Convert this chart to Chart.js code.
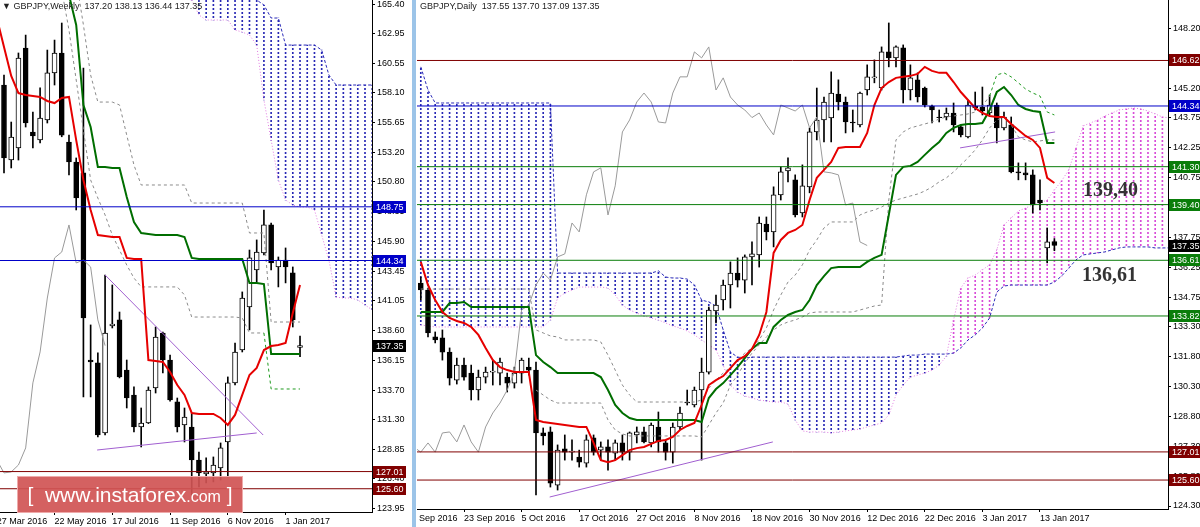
<!DOCTYPE html>
<html>
<head>
<meta charset="utf-8">
<script src="https://cdn.jsdelivr.net/npm/chart.js@4.4.1/dist/chart.umd.min.js"></script>
<style>
  body { margin: 0; background: #fff; width: 1200px; height: 527px; overflow: hidden; position: relative; font-family: "Liberation Sans", Arial, sans-serif; }
  canvas { position: absolute; top: 0; }
  #wk { left: 0; }
  #dy { left: 417px; }
  #sep { position: absolute; left: 412px; top: 0; width: 4px; height: 527px; background: #9cc4e8; }
  .ttl { position: absolute; top: 1px; font-size: 9px; color: #222; white-space: pre; }
  .big { position: absolute; font: bold 20px "Liberation Serif", "Times New Roman", serif; color: #333; }
  #wm { position: absolute; left: 17px; top: 476px; width: 224px; height: 35px; background: rgba(208, 84, 84, 0.92); border: 1px solid #eaa; color: #fff; font-size: 21px; line-height: 35px; white-space: pre; text-align: center; }
  #wm small { font-size: 16px; }
</style>
</head>
<body>
<canvas id="wk" width="411" height="527"></canvas>
<canvas id="dy" width="783" height="527"></canvas>
<div id="sep"></div>
<div class="ttl" style="left:2px">▼ GBPJPY,Weekly  137.20 138.13 136.44 137.35</div>
<div class="ttl" style="left:420px">GBPJPY,Daily  137.55 137.70 137.09 137.35</div>
<div class="big" style="left:1083px;top:178px">139,40</div>
<div class="big" style="left:1082px;top:263px">136,61</div>
<div id="wm">[  www.instaforex<small>.com</small> ]</div>
<script>
// ---------- weekly panel (left), bar index 0 = week of 4 Apr 2016 ----------
const wOpen  = [158.75,152.59,153.58,161.79,154.89,154.24,155.88,159.74,161.38,154.07,152.43,151.53,136.17,135.93,130.18,138.97,139.46,135.35,133.30,130.67,131.00,133.88,138.39,136.17,132.73,130.84,130.67,127.96,126.81,126.90,127.31,129.44,134.29,136.99,140.53,143.56,144.96,147.26,143.81,144.38,143.32,137.20];
const wHigh  = [159.57,155.71,161.38,162.85,156.53,158.51,161.62,162.44,163.84,154.64,152.76,160.15,139.05,136.75,143.15,142.33,140.11,136.17,133.96,132.23,133.96,138.88,138.47,136.58,133.05,132.23,131.82,128.62,128.13,128.21,129.36,134.78,137.57,141.76,145.20,146.03,148.49,147.42,144.63,145.37,143.81,138.13];
const wLow   = [151.53,151.94,152.59,155.30,153.58,153.99,155.63,158.75,154.50,151.36,148.49,133.14,133.14,129.85,130.02,138.80,134.70,132.23,130.26,129.03,130.95,133.46,135.11,132.80,130.26,129.44,125.09,125.75,126.08,126.16,126.32,126.57,134.12,136.83,138.64,142.58,144.79,143.56,142.17,142.50,138.88,136.44];
const wClose = [152.76,154.48,160.97,155.63,154.56,156.04,159.74,161.38,154.64,152.43,149.47,139.62,136.01,130.02,138.39,139.13,134.78,133.05,130.67,131.00,133.71,138.06,136.17,132.89,130.67,131.49,127.96,126.90,126.98,127.55,128.95,134.29,136.83,141.26,144.55,145.04,147.26,144.14,144.38,143.81,139.46,137.35];
// tenkan from index -1, kijun from 9
const wTenkan = [164.25,161.87,159.49,158.09,157.93,157.85,157.77,157.44,157.27,157.68,157.77,154.23,150.95,148.49,146.43,146.35,146.27,146.27,144.55,144.47,144.47,136.17,136.09,136.01,135.19,134.12,133.30,131.82,131.74,131.74,131.74,131.41,130.84,131.66,133.30,134.94,135.52,136.99,137.32,137.40,137.57,140.03,142.33];
const wKijun = [166.14,163.68,157.11,155.30,152.02,152.02,151.94,151.94,149.55,147.50,146.60,146.52,146.43,146.43,146.43,146.43,146.27,144.55,144.47,144.47,144.47,144.47,144.47,144.47,144.47,142.49,142.49,142.41,136.66,136.66,136.66,136.66,136.66];
// cloud spans from index 26
const wSpanA = [165.73,164.50,164.09,164.09,164.09,164.09,163.27,163.10,162.85,162.03,157.52,154.23,150.95,149.31,148.90,148.73,148.73,148.49,146.43,144.38,141.34,141.26,141.26,141.10,140.69,140.28];
const wSpanB = [166.55,166.55,166.55,166.55,166.55,166.55,166.14,166.14,166.14,165.73,165.32,164.25,164.25,162.03,162.03,162.03,162.03,162.03,161.62,159.57,158.75,158.75,158.75,158.75,158.75,158.75];
// dashed lines: first from index 10, second from index 8
const wDashA = [167.37,163.68,159.57,157.35,157.35,157.35,157.11,154.64,152.18,150.54,150.54,150.54,150.54,150.54,150.54,150.54,149.06,149.06,149.06,149.06,149.06,149.06,149.06,149.06,146.60,146.60,146.60,139.29,139.29,139.29,139.29,139.29];
const wDashB = [166.55,163.26,159.16,155.06,150.95,149.47,148.08,146.43,145.20,143.97,142.90,142.17,142.17,142.17,142.17,142.17,142.17,141.51,139.70,139.70,139.70,139.70,139.70,139.70,139.70,139.62,138.39,138.39,138.39,133.79,133.79,133.79,133.79,133.79];
const wTrends = [[[12.9, 128.78], [35.0, 130.18]], [[14.0, 143.15], [35.9, 130.01]]];
const wLevels = [[148.75, '#0000c8'], [144.34, '#0000c8'], [127.01, '#800000'], [125.60, '#800000']];
const wTicks = [165.40,162.95,160.55,158.10,155.65,153.20,150.80,148.35,145.90,143.45,141.05,138.60,136.15,133.70,131.30,128.85,126.40,123.95];
const wDateIdx = [-1, 7, 15, 23, 31, 39];
const wDateLbl = ['27 Mar 2016', '22 May 2016', '17 Jul 2016', '11 Sep 2016', '6 Nov 2016', '1 Jan 2017'];

// ---------- daily panel (right), bar index 0 = 13 Sep 2016, data from index 2 ----------
const dOpen  = [135.47,135.12,132.77,132.72,132.01,130.61,131.36,130.96,130.11,130.76,131.01,130.96,130.76,130.46,130.96,131.26,131.11,127.96,128.01,125.35,127.16,127.00,126.75,126.45,127.71,127.10,127.26,126.95,127.46,127.00,127.86,128.01,127.46,128.26,127.46,127.00,128.26,129.51,129.36,130.11,131.01,134.07,134.62,135.37,135.97,135.62,136.78,136.88,138.43,138.03,139.89,141.09,140.64,138.98,140.29,143.04,143.64,143.74,144.94,144.54,143.54,143.39,145.14,145.75,145.24,147.05,146.75,147.25,145.14,145.65,145.24,144.34,143.79,143.79,143.99,143.29,142.79,144.34,144.29,143.99,144.39,143.24,143.39,141.04,140.99,140.89,139.63,137.23,137.55];
const dHigh  = [135.77,135.22,133.02,133.12,132.22,131.71,131.71,131.36,131.11,131.26,131.61,131.71,130.96,131.26,131.71,131.71,131.51,128.21,128.26,127.36,127.86,127.61,127.10,127.86,127.86,127.51,127.61,127.61,127.86,128.01,128.26,128.26,128.46,129.01,127.61,128.46,129.26,130.11,130.26,131.71,134.27,134.87,135.62,136.53,136.73,136.88,137.53,138.78,138.78,140.29,141.29,141.74,140.89,141.39,143.24,145.24,144.79,146.05,145.65,144.79,144.14,145.04,146.40,146.65,147.30,148.50,147.35,147.40,146.40,146.00,145.29,144.39,144.14,144.24,144.49,143.39,144.64,145.04,145.29,144.89,144.49,144.04,143.79,141.49,141.49,141.14,140.64,138.23,137.70];
const dLow   = [134.62,132.77,132.47,131.61,130.36,130.41,130.61,129.61,129.61,130.46,130.36,130.36,130.01,130.21,130.46,130.86,124.85,127.36,125.25,125.10,126.60,126.60,126.25,126.25,126.85,126.60,126.10,126.60,126.60,126.60,127.46,127.46,127.26,127.00,126.60,126.45,128.11,129.36,129.26,126.60,130.91,133.47,134.12,134.22,135.27,134.97,135.37,136.27,137.63,137.28,139.63,140.54,138.78,138.78,139.99,142.64,142.54,142.54,144.14,142.99,143.04,143.29,144.89,145.50,145.14,146.30,146.30,144.49,144.64,144.54,144.29,143.49,143.54,143.64,143.04,142.79,142.74,144.14,143.89,143.89,142.49,143.14,140.99,140.64,140.64,138.98,139.13,136.48,137.09];
const dClose = [135.12,132.97,132.62,132.01,130.71,131.36,130.76,130.11,130.76,131.01,131.06,131.51,130.46,130.96,131.61,131.11,127.96,127.81,125.45,127.10,127.00,127.05,126.50,127.61,127.00,127.26,127.00,127.46,127.00,127.96,128.01,127.51,128.36,127.51,127.00,128.26,128.96,129.46,130.11,131.01,134.12,134.37,135.37,135.97,135.62,136.78,136.93,138.48,138.03,139.89,141.04,141.24,138.88,140.34,143.04,143.64,144.54,144.99,144.54,143.54,143.49,144.99,145.80,145.80,147.05,146.75,147.30,145.14,145.75,144.79,144.39,144.14,143.76,143.99,143.39,142.89,144.39,144.24,144.09,144.39,143.24,143.79,141.04,140.99,140.89,139.38,139.48,137.53,137.35];
const dTenkan = [136.53,135.37,134.62,134.02,133.72,133.57,133.47,133.27,132.87,132.22,131.61,131.26,131.11,131.01,131.01,131.01,128.61,128.51,128.46,128.41,128.36,128.31,128.26,128.26,127.46,126.60,126.50,126.60,126.85,127.10,127.20,127.26,127.41,127.56,127.61,127.76,128.11,128.31,128.46,129.36,130.36,130.61,130.81,131.21,131.61,131.81,132.17,132.87,134.02,136.98,137.63,137.98,138.13,138.38,139.63,140.74,141.14,141.54,142.24,142.29,142.29,142.29,142.99,144.39,145.24,145.54,145.75,145.80,145.85,145.95,146.30,146.10,146.00,146.00,145.54,145.04,144.64,144.24,143.99,143.84,143.79,143.79,143.44,143.14,142.84,142.64,142.24,140.74,140.48];
const dKijun = [134.02,134.02,134.02,134.02,134.47,134.47,134.52,134.27,134.27,134.27,134.27,134.27,134.27,134.27,134.27,134.27,131.86,131.51,131.26,130.96,130.96,130.96,130.96,130.96,130.96,130.76,130.11,129.36,128.96,128.71,128.61,128.61,128.61,128.61,128.61,128.61,128.61,128.61,128.61,128.51,129.71,130.16,130.46,130.86,131.26,131.71,132.17,132.47,132.47,133.27,133.62,133.87,134.02,134.12,134.62,135.37,135.82,136.22,136.27,136.27,136.27,136.27,136.53,136.73,136.88,138.88,140.89,141.29,141.34,141.54,141.89,142.24,142.54,142.99,143.24,143.39,143.44,143.44,143.49,144.14,145.04,145.29,144.89,144.39,144.19,144.09,144.04,142.49,142.49];
// spans from index 2 to 106
const dSpanA = [133.37,133.32,133.27,133.27,133.27,133.27,133.27,133.27,133.27,133.27,133.27,133.27,133.27,133.27,133.27,133.27,133.27,133.27,133.62,134.72,134.97,135.12,135.27,135.27,135.27,135.27,135.22,134.87,134.37,134.12,133.97,133.82,133.72,133.62,133.47,133.32,133.22,133.07,132.87,132.62,132.37,132.12,131.36,130.36,130.01,129.81,129.71,129.61,129.56,129.51,129.51,129.41,128.61,128.06,128.01,128.01,128.01,127.96,128.01,128.06,128.11,128.16,128.26,128.36,128.46,128.86,129.86,130.36,130.76,130.86,130.96,131.11,131.36,131.81,133.62,135.22,135.72,135.87,136.13,136.38,137.13,138.38,138.73,139.08,139.23,139.38,139.48,139.63,140.13,140.59,141.14,142.24,143.34,143.49,143.64,143.84,143.99,144.14,144.19,144.24,144.19,144.09,143.94,143.79,143.74];
const dSpanB = [146.30,145.14,144.49,144.49,144.49,144.49,144.49,144.49,144.49,144.49,144.49,144.49,144.49,144.49,144.49,144.49,144.49,144.49,144.49,135.97,135.97,135.97,135.97,135.97,135.97,135.97,135.97,135.97,135.97,135.97,135.97,135.97,135.97,136.08,135.77,135.72,135.72,135.67,135.37,134.62,134.52,134.32,133.12,132.01,131.76,131.71,131.76,131.76,131.76,131.76,131.76,131.76,131.76,131.76,131.76,131.76,131.76,131.76,131.76,131.76,131.76,131.76,131.76,131.76,131.76,131.76,131.76,131.81,131.86,131.86,131.91,131.91,131.91,131.91,131.96,132.22,132.62,132.87,133.22,133.72,135.02,135.32,135.37,135.37,135.37,135.37,135.37,135.37,135.52,135.82,136.22,136.63,136.88,136.93,136.98,137.03,137.13,137.23,137.28,137.28,137.28,137.28,137.23,137.23,137.23];
// dashed lines: first from index 2, second from index 18
const dDashA = [135.17,135.17,135.17,135.17,135.17,135.17,135.17,135.17,135.17,135.17,135.17,135.17,135.17,135.17,135.17,135.17,133.12,132.97,132.82,132.77,132.62,132.62,132.62,132.62,132.62,132.52,131.86,131.11,130.36,129.86,129.51,129.51,129.51,129.51,129.51,129.51,129.51,129.51,129.51,129.61,130.21,130.61,130.96,131.26,131.61,131.96,132.22,132.62,133.22,134.12,134.87,135.52,135.87,136.38,137.13,137.63,138.23,138.53,138.53,138.53,138.53,138.88,139.03,139.13,139.28,139.48,139.63,139.73,139.83,139.93,140.08,140.28,140.54,140.74,141.04,141.39,141.74,142.14,142.64,143.24,143.64,143.79,143.39,142.79,142.64,142.54,142.59,142.64,142.64];
const dDashB = [130.11,129.86,129.61,129.46,129.46,129.46,129.46,129.46,129.46,129.46,128.61,128.11,127.91,127.81,127.81,127.81,127.81,127.81,127.81,127.81,127.81,127.81,127.81,127.76,128.36,128.96,129.46,130.36,130.86,131.46,131.96,132.37,132.77,133.12,133.37,133.52,133.62,133.77,133.97,134.02,134.02,134.02,134.02,134.02,134.02,134.12,134.22,134.32,134.37,139.63,142.64,143.04,143.24,143.34,143.44,143.54,143.69,143.79,143.84,143.89,143.94,144.04,144.34,144.84,145.90,146.00,145.80,145.50,145.19,144.99,144.84,144.04,143.89];
const dTrends = [[[19.9, 124.75], [50.9, 127.51]], [[76.9, 142.24], [90.1, 143.04]]];
const dLevels = [[146.62, '#800000'], [144.34, '#0000c8'], [141.30, '#0a7d0a'], [139.40, '#0a7d0a'], [136.61, '#0a7d0a'], [133.82, '#0a7d0a'], [127.01, '#800000'], [125.60, '#800000']];
const dTicks = [148.20,146.70,145.20,143.75,142.25,140.75,139.25,137.75,136.25,134.75,133.30,131.80,130.30,128.80,127.30,125.80,124.30];
const dDateIdx = [0, 8, 16, 24, 32, 40, 48, 56, 64, 72, 80, 88];
const dDateLbl = ['13 Sep 2016', '23 Sep 2016', '5 Oct 2016', '17 Oct 2016', '27 Oct 2016', '8 Nov 2016', '18 Nov 2016', '30 Nov 2016', '12 Dec 2016', '22 Dec 2016', '3 Jan 2017', '13 Jan 2017'];
const lastPrice = 137.35;

Chart.defaults.font.family = '"Liberation Sans", Arial, sans-serif';
Chart.defaults.font.size = 9;
Chart.defaults.color = '#000';

function hatch(color) {
  const c = document.createElement('canvas');
  c.width = 1; c.height = 4;
  const g = c.getContext('2d');
  g.fillStyle = color;
  g.fillRect(0, 0, 1, 2);
  return g.createPattern(c, 'repeat');
}
const blueHatch = hatch('#2828b4');
const pinkHatch = hatch('#d84cd8');

function pts(first, arr) {
  return arr.map((v, k) => ({ x: first + k, y: v }));
}

function line(first, arr, color, width, dash, order, extra) {
  return Object.assign({
    type: 'line', data: pts(first, arr), borderColor: color, borderWidth: width,
    borderDash: dash || [], pointRadius: 0, tension: 0, fill: false, order: order
  }, extra || {});
}

function candles(first, o, h, l, c, w) {
  return [
    { type: 'bar', data: o.map((v, k) => ({ x: first + k, y: [v, c[k]] })), barThickness: w, grouped: false,
      borderWidth: 1, borderColor: '#000', borderSkipped: false,
      backgroundColor: o.map((v, k) => c[k] >= v ? '#fff' : '#000'), order: 6 },
    { type: 'bar', data: l.map((v, k) => ({ x: first + k, y: [v, h[k]] })), barThickness: 1, grouped: false,
      backgroundColor: '#000', order: 7 }
  ];
}

function cloud(first, a, b) {
  return { type: 'bar', data: a.map((v, k) => ({ x: first + k, y: [v, b[k]] })), barThickness: 1, grouped: false,
    backgroundColor: a.map((v, k) => b[k] > v ? blueHatch : pinkHatch), order: 9 };
}

function levelLines(levels, x0, x1) {
  return levels.map(([v, col]) => ({ type: 'line', data: [{ x: x0, y: v }, { x: x1, y: v }],
    borderColor: col, borderWidth: 1, pointRadius: 0, order: 0 }));
}

function trendLines(list) {
  return list.map(p => ({ type: 'line', data: p.map(q => ({ x: q[0], y: q[1] })),
    borderColor: '#a15fd0', borderWidth: 1, pointRadius: 0, order: 4 }));
}

function boxes(items, boxW) {
  return {
    id: 'boxes',
    afterDraw(chart) {
      const ctx = chart.ctx, ys = chart.scales.y, ca = chart.chartArea;
      ctx.save();
      ctx.font = '9px "Liberation Sans", Arial, sans-serif';
      ctx.textBaseline = 'middle';
      items.forEach(([v, col]) => {
        const y = Math.round(ys.getPixelForValue(v));
        ctx.fillStyle = col;
        ctx.fillRect(ca.right + 1, y - 6, boxW, 12);
        ctx.fillStyle = '#fff';
        ctx.fillText(v.toFixed(2), ca.right + 4, y + 0.5);
      });
      ctx.restore();
    }
  };
}

function options(xMin, xMax, yMin, yMax, ticks, dIdx, dLbl, axisW, axisH) {
  return {
    responsive: false, animation: false, events: [],
    layout: { padding: 0 },
    plugins: { legend: { display: false }, tooltip: { enabled: false } },
    scales: {
      x: {
        type: 'linear', min: xMin, max: xMax, offset: false, bounds: 'data',
        grid: { display: true, drawOnChartArea: false, drawTicks: true, tickLength: 3, color: '#000', offset: false },
        border: { display: true, color: '#000' },
        ticks: { autoSkip: false, maxRotation: 0, minRotation: 0, align: 'start', padding: 1,
          callback: (v, i) => dLbl[i] },
        afterBuildTicks: s => { s.ticks = dIdx.map(v => ({ value: v })); },
        afterFit: s => { s.height = axisH; s.paddingLeft = 0; s.paddingRight = 0; }
      },
      y: {
        type: 'linear', position: 'right', min: yMin, max: yMax, bounds: 'data',
        grid: { display: true, drawOnChartArea: false, drawTicks: true, tickLength: 3, color: '#000' },
        border: { display: true, color: '#000' },
        ticks: { autoSkip: false, padding: 2, callback: v => v.toFixed(2) },
        afterBuildTicks: s => { s.ticks = ticks.map(v => ({ value: v })); },
        afterFit: s => { s.width = axisW; s.paddingTop = 0; s.paddingBottom = 0; }
      }
    }
  };
}

// weekly chart
const wXmin = -0.554, wXmax = 50.97;
new Chart(document.getElementById('wk'), {
  type: 'bar',
  data: {
    datasets: [
      ...levelLines(wLevels, wXmin, wXmax),
      line(-1, wTenkan, '#e60000', 2, [], 1),
      line(9, wKijun, '#006e00', 2, [], 2),
      line(-27, wClose, '#9a9a9a', 1, [], 3),
      ...trendLines(wTrends),
      line(10, wDashA, '#8a8a8a', 1, [3, 3], 5),
      line(8, wDashB, '#8a8a8a', 1, [3, 3], 5, { segment: { borderColor: c => c.p0.parsed.x >= 36 ? '#1f9a1f' : '#8a8a8a' } }),
      ...candles(0, wOpen, wHigh, wLow, wClose, 5),
      line(26, wSpanA, '#e07ae0', 1, [1, 2], 8),
      line(26, wSpanB, '#2a2ab8', 1, [3, 2], 8),
      cloud(26, wSpanA, wSpanB)
    ]
  },
  options: options(wXmin, wXmax, 123.69, 165.73, wTicks, wDateIdx, wDateLbl, 39, 15),
  plugins: [boxes([...wLevels, [lastPrice, '#000']], 33)]
});

// daily chart
const dXmin = 1.472, dXmax = 105.78;
new Chart(document.getElementById('dy'), {
  type: 'bar',
  data: {
    datasets: [
      ...levelLines(dLevels, dXmin, dXmax),
      line(2, dTenkan, '#e60000', 2, [], 1),
      line(2, dKijun, '#006e00', 2, [], 2),
      line(-24, dClose, '#9a9a9a', 1, [], 3),
      ...trendLines(dTrends),
      line(2, dDashA, '#8a8a8a', 1, [3, 3], 5),
      line(18, dDashB, '#8a8a8a', 1, [3, 3], 5, { segment: { borderColor: c => c.p0.parsed.x >= 81 ? '#1f9a1f' : '#8a8a8a' } }),
      ...candles(2, dOpen, dHigh, dLow, dClose, 5),
      line(2, dSpanA, '#e07ae0', 1, [1, 2], 8),
      line(2, dSpanB, '#2a2ab8', 1, [3, 2], 8),
      cloud(2, dSpanA, dSpanB)
    ]
  },
  options: options(dXmin, dXmax, 124.15, 149.65, dTicks, dDateIdx, dDateLbl, 32, 18),
  plugins: [boxes([...dLevels, [lastPrice, '#000']], 32)]
});
</script>
</body>
</html>
